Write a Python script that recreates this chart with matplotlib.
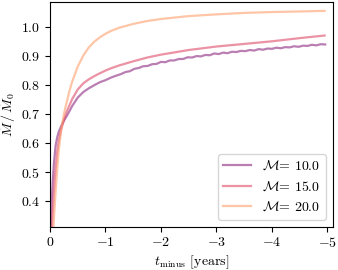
import matplotlib
matplotlib.use("Agg")
import matplotlib.pyplot as plt

plt.rcParams['font.family'] = 'serif'
plt.rcParams['font.serif'] = ['cmr10', 'DejaVu Serif']
plt.rcParams['mathtext.fontset'] = 'cm'
plt.rcParams['axes.formatter.use_mathtext'] = True
plt.rcParams['font.size'] = 10

# temps (annees), debut commun aux trois courbes
t_debut = [0, -0.01, -0.02, -0.03, -0.05, -0.07, -0.1, -0.13, -0.16, -0.2, -0.25,
           -0.3, -0.35, -0.4, -0.5, -0.6, -0.7, -0.8, -0.9, -1.0, -1.1]
# fin lisse (M=15, M=20)
t_fin = [-1.25, -1.5, -1.75, -2.0, -2.5, -3.0, -3.5, -4.0, -4.5, -4.95]
# fin avec oscillations (M=10)
t_fin_10 = [-1.20, -1.28, -1.36, -1.44, -1.52, -1.60, -1.68, -1.76, -1.84, -1.92,
            -2.00, -2.08, -2.16, -2.24, -2.32, -2.40, -2.48, -2.56, -2.64, -2.72,
            -2.80, -2.88, -2.96, -3.04, -3.12, -3.20, -3.28, -3.36, -3.44, -3.52,
            -3.60, -3.68, -3.76, -3.84, -3.92, -4.00, -4.08, -4.16, -4.24, -4.32,
            -4.40, -4.48, -4.56, -4.64, -4.72, -4.80, -4.88, -4.96]

mdot_10 = [0.27, 0.30, 0.36, 0.40, 0.47, 0.53, 0.59, 0.62, 0.64, 0.658, 0.677,
           0.693, 0.71, 0.728, 0.757, 0.776, 0.789, 0.80, 0.81, 0.817, 0.826,
           0.833, 0.838, 0.845, 0.848, 0.856, 0.859, 0.865, 0.866, 0.872, 0.873,
           0.880, 0.879, 0.885, 0.885, 0.890, 0.890, 0.896, 0.895, 0.900, 0.899,
           0.904, 0.903, 0.909, 0.907, 0.912, 0.910, 0.915, 0.914, 0.918, 0.917,
           0.921, 0.919, 0.924, 0.922, 0.926, 0.925, 0.929, 0.927, 0.931, 0.930,
           0.934, 0.932, 0.936, 0.935, 0.939, 0.937, 0.941, 0.940]
mdot_15 = [0.20, 0.23, 0.26, 0.29, 0.365, 0.43, 0.51, 0.57, 0.61, 0.645, 0.68,
           0.708, 0.73, 0.752, 0.785, 0.806, 0.82, 0.831, 0.841, 0.85, 0.858,
           0.868, 0.882, 0.895, 0.905, 0.921, 0.933, 0.942, 0.951, 0.962, 0.971]
mdot_20 = [0.05, 0.09, 0.13, 0.17, 0.26, 0.34, 0.43, 0.51, 0.58, 0.645, 0.70,
           0.74, 0.78, 0.812, 0.864, 0.902, 0.93, 0.95, 0.965, 0.977, 0.987,
           0.998, 1.011, 1.021, 1.028, 1.038, 1.044, 1.049, 1.052, 1.054, 1.056]

masses = [10.0, 15.0, 20.0]
temps = [t_debut + t_fin_10, t_debut + t_fin, t_debut + t_fin]
series = [mdot_10, mdot_15, mdot_20]
couleurs = [plt.cm.magma(0.4), plt.cm.magma(0.6), plt.cm.magma(0.8)]

fig = plt.figure(figsize=(3.38, 2.70), dpi=100)
ax = fig.add_axes([0.148, 0.161, 0.837, 0.832])

for m, x, y, c in zip(masses, temps, series, couleurs):
    ax.plot(x, y, color=c, alpha=0.6, lw=1.6, label=r"$\mathcal{M}$= " + str(m))

ax.set_xlim(0, -5.1)
ax.set_ylim(0.312, 1.087)
ax.set_xticks([0, -1, -2, -3, -4, -5])
ax.set_yticks([0.4, 0.5, 0.6, 0.7, 0.8, 0.9, 1.0])
ax.tick_params(direction='out', length=3.5)
ax.set_xlabel(r"$t_{\rm minus}$ [years]", labelpad=2)
ax.set_ylabel(r"$\dot{M}\,/\,\dot{M}_0$", labelpad=2)
ax.legend(loc='lower right')

fig.savefig('out.png', dpi=100)
